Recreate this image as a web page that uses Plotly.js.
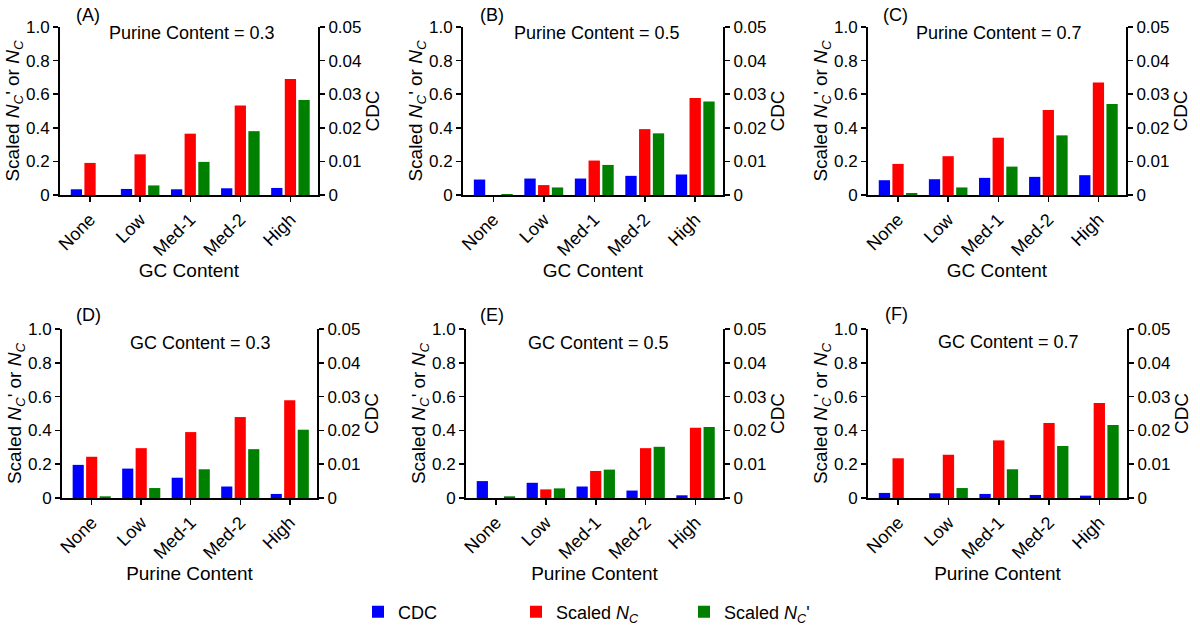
<!DOCTYPE html>
<html>
<head>
<meta charset="utf-8">
<script src="https://cdn.plot.ly/plotly-3.0.1.min.js"></script>
<style>
  html, body { margin: 0; padding: 0; background: #fff; }
  #plot { width: 1200px; height: 634px; }
</style>
</head>
<body>
<div id="plot"></div>
<script>
// categories shared by all six panels
const categories = ['None', 'Low', 'Med-1', 'Med-2', 'High'];

const panelLetters = ['(A)', '(B)', '(C)', '(D)', '(E)', '(F)'];
const panelSubtitles = [
    'Purine Content = 0.3', 'Purine Content = 0.5', 'Purine Content = 0.7',
    'GC Content = 0.3', 'GC Content = 0.5', 'GC Content = 0.7'
];
const xTitles = ['GC Content', 'GC Content', 'GC Content',
                 'Purine Content', 'Purine Content', 'Purine Content'];

const leftTickVals = [0, 0.2, 0.4, 0.6, 0.8, 1.0];
const leftTickText = ['0', '0.2', '0.4', '0.6', '0.8', '1.0'];
const rightTickVals = [0, 0.01, 0.02, 0.03, 0.04, 0.05];
const rightTickText = ['0', '0.01', '0.02', '0.03', '0.04', '0.05'];

// (A) purine 0.3
const cdcA = [0.0017, 0.0018, 0.0017, 0.0020, 0.0021];
const ncA = [0.191, 0.242, 0.365, 0.532, 0.690];
const ncPrimeA = [0, 0.057, 0.197, 0.380, 0.566];
// (B) purine 0.5
const cdcB = [0.0046, 0.0049, 0.0049, 0.0057, 0.0061];
const ncB = [0, 0.059, 0.205, 0.392, 0.577];
const ncPrimeB = [0.006, 0.045, 0.179, 0.367, 0.556];
// (C) purine 0.7
const cdcC = [0.0044, 0.0047, 0.0051, 0.0054, 0.0059];
const ncC = [0.185, 0.231, 0.341, 0.506, 0.670];
const ncPrimeC = [0.012, 0.045, 0.169, 0.355, 0.542];
// (D) GC 0.3
const cdcD = [0.0098, 0.0087, 0.0060, 0.0034, 0.0012];
const ncD = [0.244, 0.295, 0.390, 0.479, 0.578];
const ncPrimeD = [0.010, 0.059, 0.170, 0.289, 0.404];
// (E) GC 0.5
const cdcE = [0.0050, 0.0045, 0.0034, 0.0022, 0.0008];
const ncE = [0, 0.051, 0.160, 0.295, 0.416];
const ncPrimeE = [0.010, 0.057, 0.168, 0.303, 0.420];
// (F) GC 0.7
const cdcF = [0.0015, 0.0014, 0.0012, 0.0009, 0.0007];
const ncF = [0.235, 0.256, 0.341, 0.444, 0.562];
const ncPrimeF = [0, 0.059, 0.170, 0.308, 0.432];

const panelData = [
    [cdcA, ncA, ncPrimeA], [cdcB, ncB, ncPrimeB], [cdcC, ncC, ncPrimeC],
    [cdcD, ncD, ncPrimeD], [cdcE, ncE, ncPrimeE], [cdcF, ncF, ncPrimeF]
];

// pixel boxes of each plot area (left, right, top, bottom)
const boxes = [
    [60, 318, 27, 195], [463, 723, 27, 195], [868, 1126, 27, 195],
    [62, 317, 329, 498], [466, 723, 329, 498], [868, 1127, 329, 498]
];
// annotation spots in page pixels
const letterPos = [[88, 15], [492, 15], [895, 15], [88, 315], [492, 315], [896, 314]];
const subtitlePos = [[192, 33], [597, 33], [999, 33], [200, 343], [598, 343], [1008, 342]];
// one legend box per series, left edge in pixels
const legendX = [358, 516, 684];

const W = 1200, H = 634;
const FONT = 'Liberation Sans, Arial, sans-serif';
const names = ['CDC', 'Scaled <i>N<sub>C</sub></i>', "Scaled <i>N<sub>C</sub></i>'"];
const colors = ['#0000ff', '#ff0000', '#008000'];
const offsets = [-0.385, -0.113, 0.16];
const legendIds = ['legend', 'legend2', 'legend3'];

const traces = [];
const annotations = [];
const layout = {
    width: W,
    height: H,
    margin: {l: 0, r: 0, t: 0, b: 0},
    paper_bgcolor: '#fff',
    plot_bgcolor: 'rgba(0,0,0,0)',
    font: {family: FONT, size: 18, color: '#000'},
    barmode: 'overlay',
    showlegend: true
};

legendIds.forEach(function(id, k) {
    layout[id] = {
        orientation: 'h',
        x: legendX[k] / W, xanchor: 'left',
        y: 1 - 612 / H, yanchor: 'middle',
        bgcolor: 'rgba(0,0,0,0)',
        font: {size: 18}
    };
});

panelData.forEach(function(series, i) {
    const b = boxes[i];
    const xName = 'x' + (i + 1);
    const yLeft = 'y' + (2 * i + 1);
    const yRight = 'y' + (2 * i + 2);

    series.forEach(function(vals, k) {
        traces.push({
            type: 'bar',
            x: categories,
            y: vals,
            name: names[k],
            xaxis: xName,
            yaxis: k === 0 ? yRight : yLeft,
            width: 0.225,
            offset: offsets[k],
            marker: {color: colors[k], line: {width: 0}},
            showlegend: i === 0,
            legend: legendIds[k]
        });
    });

    const xdom = [b[0] / W, b[1] / W];
    const ydom = [1 - b[3] / H, 1 - b[2] / H];

    layout['xaxis' + (i + 1)] = {
        domain: xdom,
        anchor: yLeft,
        range: [-0.6, 4.55],
        showline: true, linewidth: 2, linecolor: '#000',
        ticks: 'outside', ticklen: 5, tickwidth: 1.5, tickcolor: '#000',
        tickangle: -45,
        tickfont: {size: 18},
        showgrid: false, zeroline: false,
        title: {text: xTitles[i], font: {size: 19}, standoff: 0}
    };
    layout['yaxis' + (2 * i + 1)] = {
        domain: ydom,
        anchor: xName,
        range: [0, 1.0],
        tickvals: leftTickVals, ticktext: leftTickText,
        showline: true, linewidth: 2, linecolor: '#000',
        ticks: 'outside', ticklen: 5, tickwidth: 1.5, tickcolor: '#000',
        tickfont: {size: 17},
        showgrid: false, zeroline: false,
        title: {text: "Scaled <i>N<sub>C</sub></i>' or <i>N<sub>C</sub></i>", font: {size: 19}, standoff: 0}
    };
    layout['yaxis' + (2 * i + 2)] = {
        overlaying: yLeft,
        anchor: xName,
        side: 'right',
        range: [0, 0.05],
        tickvals: rightTickVals, ticktext: rightTickText,
        showline: true, linewidth: 2, linecolor: '#000',
        ticks: 'outside', ticklen: 5, tickwidth: 1.5, tickcolor: '#000',
        tickfont: {size: 17},
        showgrid: false, zeroline: false,
        title: {text: 'CDC', font: {size: 19}, standoff: 5}
    };

    annotations.push({
        text: panelLetters[i],
        xref: 'paper', yref: 'paper',
        x: letterPos[i][0] / W, y: 1 - letterPos[i][1] / H,
        xanchor: 'center', yanchor: 'middle',
        showarrow: false, font: {size: 18}
    });
    annotations.push({
        text: panelSubtitles[i],
        xref: 'paper', yref: 'paper',
        x: subtitlePos[i][0] / W, y: 1 - subtitlePos[i][1] / H,
        xanchor: 'center', yanchor: 'middle',
        showarrow: false, font: {size: 18}
    });
});

layout.annotations = annotations;

Plotly.newPlot('plot', traces, layout, {staticPlot: true});
</script>
</body>
</html>
